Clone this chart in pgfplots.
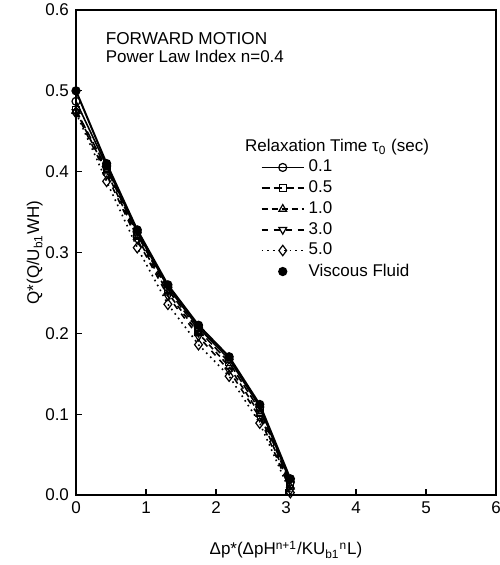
\documentclass[border=0pt]{standalone}
\usepackage{fontspec}
\setmainfont{Liberation Sans}
\usepackage{pgfplots}
\pgfplotsset{compat=1.18}

\newcommand{\lbl}{\fontsize{8.5}{10}\selectfont}
\pgfplotsset{
    dot legend/.style={legend image code/.code={\draw[##1] plot coordinates {(0.37cm,0cm)};}},
    openmark/.style={mark options={solid, draw=black, fill=white, line width=0.6pt, #1}},
    openmark/.default={},
}

\begin{document}
\begin{tikzpicture}
\begin{axis}[
    name=ax,
    scale only axis,
    width=210pt, height=242.5pt,
    xmin=0, xmax=6, ymin=0, ymax=0.6,
    xtick={0,1,2,3,4,5,6},
    ytick={0,0.1,0.2,0.3,0.4,0.5,0.6},
    tick align=inside,
    xtick pos=bottom, ytick pos=left,
    major tick length=3pt,
    axis line style={line width=0.8pt},
    tick style={line width=0.6pt, black},
    /pgf/number format/assume math mode=true,
    yticklabel style={/pgf/number format/.cd, fixed, fixed zerofill, precision=1},
    ticklabel style={font=\lbl},
    label style={font=\lbl},
    xlabel={Δp*(ΔpH\textsuperscript{n+1}/KU\textsubscript{b1}\textsuperscript{n}L)},
    ylabel={Q*(Q/U\textsubscript{b1}WH)},
    xlabel style={at={(axis description cs:0.5,-0.113)}, anchor=center},
    ylabel style={at={(axis description cs:-0.098,0.5)}, anchor=center},
    clip=false,
    every axis plot/.append style={black, line width=0.8pt},
    legend image code/.code={\draw[mark repeat=2,mark phase=2,#1]
        plot coordinates {(0cm,0cm) (0.37cm,0cm) (0.74cm,0cm)};},
    legend cell align=left,
    legend style={draw=none, fill=none, font=\lbl,
        at={(rel axis cs:0.425,0.708)}, anchor=north west,
        row sep=-1.05pt},
]

% tau0 = 0.1
\addplot[solid, mark=o, mark size=2pt, openmark] coordinates {
    (0,0.487) (0.4375,0.407) (0.875,0.325) (1.3125,0.257)
    (1.75,0.207) (2.1875,0.168) (2.625,0.109) (3.0625,0.016)
};
\addlegendentry{0.1}

% tau0 = 0.5
\addplot[dash pattern=on 4pt off 2pt, mark=square, mark size=1.7pt, openmark] coordinates {
    (0,0.476) (0.4375,0.404) (0.875,0.322) (1.3125,0.254)
    (1.75,0.204) (2.1875,0.164) (2.625,0.105) (3.0625,0.013)
};
\addlegendentry{0.5}

% tau0 = 1.0
\addplot[densely dashed, mark=triangle, mark size=2.2pt, openmark] coordinates {
    (0,0.475) (0.4375,0.400) (0.875,0.319) (1.3125,0.250)
    (1.75,0.200) (2.1875,0.159) (2.625,0.100) (3.0625,0.010)
};
\addlegendentry{1.0}

% tau0 = 3.0
\addplot[dashed, mark=triangle, mark size=2.2pt, openmark={rotate=180}] coordinates {
    (0,0.474) (0.4375,0.396) (0.875,0.316) (1.3125,0.246)
    (1.75,0.196) (2.1875,0.154) (2.625,0.096) (3.0625,0.006)
};
\addlegendentry{3.0}

% tau0 = 5.0
\addplot[dotted, mark=diamond, mark size=2.6pt, openmark] coordinates {
    (0,0.473) (0.4375,0.388) (0.875,0.306) (1.3125,0.236)
    (1.75,0.186) (2.1875,0.147) (2.625,0.089) (3.0625,0.003)
};
\addlegendentry{5.0}

% viscous fluid
\addplot[solid, line width=1pt, mark=*, mark size=1.8pt,
    mark options={solid, fill=black}, dot legend]
    coordinates {
    (0,0.500) (0.4375,0.410) (0.875,0.328) (1.3125,0.260)
    (1.75,0.210) (2.1875,0.171) (2.625,0.112) (3.0625,0.020)
};
\addlegendentry{Viscous Fluid}

\node[anchor=west, inner sep=0pt, font=\fontsize{8.6}{10}\selectfont] at (axis cs:0.42,0.565) {FORWARD MOTION};
\node[anchor=west, inner sep=0pt, font=\lbl] at (axis cs:0.42,0.543) {Power Law Index n=0.4};
\node[anchor=center, font=\lbl] at (axis cs:3.73,0.430) {Relaxation Time τ\textsubscript{0} (sec)};
\end{axis}
\pgfresetboundingbox
\path[use as bounding box] ([shift={(-38pt,-35pt)}]ax.south west)
    rectangle ([shift={(2pt,5pt)}]ax.north east);
\end{tikzpicture}
\end{document}
